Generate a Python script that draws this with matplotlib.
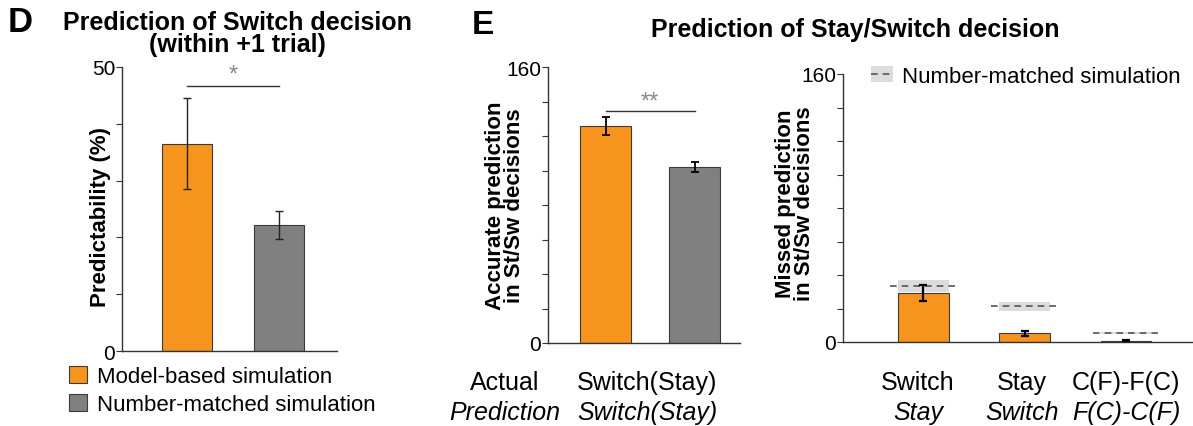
import matplotlib.pyplot as plt
from matplotlib.patches import Patch
from matplotlib.lines import Line2D
import numpy as np

plt.rcParams['font.family'] = ['Liberation Sans', 'DejaVu Sans']

# Panel D: predictability of switch decision (%)
d_groups = ['Model-based simulation', 'Number-matched simulation']
d_vals = [36.5, 22.2]
d_err = [8.0, 2.5]

# Panel E left: accurate predictions
e1_vals = [125.7, 102.2]
e1_err = [5.3, 3.0]

# Panel E right: missed predictions
e2_actual = ['Switch', 'Stay', 'C(F)-F(C)']
e2_pred = ['Stay', 'Switch', 'F(C)-C(F)']
e2_vals = [29.2, 5.3, 0.7]
e2_err = [4.8, 1.5, 0.4]
e2_sim = [33.6, 21.6, 5.3]
e2_sim_lo = [30.0, 18.8, 4.8]
e2_sim_hi = [37.0, 23.9, 5.8]

ORANGE = '#F7941D'
GRAY = '#808080'
W, H = 1193, 427

fig = plt.figure(figsize=(W / 100, H / 100), dpi=100)


def px_axes(l, r, t, b):
    return fig.add_axes([l / W, 1 - b / H, (r - l) / W, (b - t) / H])


def style(ax):
    for s in ['top', 'right']:
        ax.spines[s].set_visible(False)
    for s in ['left', 'bottom']:
        ax.spines[s].set_color('#333333')
        ax.spines[s].set_linewidth(1.0)
    ax.tick_params(axis='y', direction='out', length=4, width=0.8,
                   labelsize=15, color='#333333', pad=1)
    ax.set_xticks([])


# ---- D ----
ax1 = px_axes(122, 337, 68, 352)
style(ax1)
xd = np.array([1, 2])
ax1.bar(xd, d_vals, width=0.55, color=[ORANGE, GRAY], edgecolor='#3a3a3a', linewidth=0.8)
ax1.errorbar(xd, d_vals, yerr=d_err, fmt='none', ecolor='#222222', elinewidth=1.0,
             capsize=3, capthick=1.0)
ax1.set_xlim(0.293, 2.63)
ax1.set_ylim(0, 50)
ax1.set_yticks([0, 10, 20, 30, 40, 50])
ax1.set_yticklabels(['0', '', '', '', '', '50'])
ax1.set_ylabel('Predictability (%)', fontsize=16, fontweight='bold')
ax1.yaxis.set_label_coords(-0.05, 0.474)
ax1.plot([1, 2], [46.7, 46.7], color='#333333', lw=1.0, clip_on=False)
ax1.text(1.5, 48.6, '*', ha='center', va='center', fontsize=17, color='#888888')

fig.text(8 / W, 1 - 22 / H, 'D', fontsize=25, fontweight='bold', va='center', ha='left')
fig.text(237 / W, 1 - 34 / H, 'Prediction of Switch decision\n(within +1 trial)',
         fontsize=18, fontweight='bold', ha='center', va='center', linespacing=0.92)

handles = [Patch(facecolor=ORANGE, edgecolor='#3a3a3a', linewidth=0.8),
           Patch(facecolor=GRAY, edgecolor='#3a3a3a', linewidth=0.8)]
fig.legend(handles, d_groups, loc='upper left', bbox_to_anchor=(69 / W, 1 - 367 / H),
           frameon=False, fontsize=16, handlelength=0.8, handleheight=0.8,
           handletextpad=0.45, labelspacing=0.3, borderaxespad=0, borderpad=0)

# ---- E left ----
ax2 = px_axes(548, 740, 68, 344)
style(ax2)
ax2.bar(xd, e1_vals, width=0.573, color=[ORANGE, GRAY], edgecolor='#3a3a3a', linewidth=0.8)
ax2.errorbar(xd, e1_vals, yerr=e1_err, fmt='none', ecolor='black', elinewidth=1.3,
             capsize=3, capthick=1.3)
ax2.set_xlim(0.351, 2.51)
ax2.set_ylim(0, 160)
ax2.set_yticks(np.arange(0, 161, 20))
ax2.set_yticklabels(['0'] + [''] * 7 + ['160'])
ax2.set_ylabel('Accurate prediction\nin St/Sw decisions', fontsize=16, fontweight='bold',
               linespacing=0.9)
ax2.yaxis.set_label_coords(-0.12, 0.5)
ax2.plot([1, 2], [134.5, 134.5], color='#333333', lw=1.0, clip_on=False)
ax2.text(1.5, 140.0, '**', ha='center', va='center', fontsize=17, color='#888888')
for i, (a, p) in enumerate(zip(['Actual', 'Switch(Stay)'], ['Prediction', 'Switch(Stay)'])):
    xpix = [505, 647][i]
    fig.text(xpix / W, 1 - 383 / H, a, fontsize=18, ha='center', va='center')
    fig.text(xpix / W, 1 - 413 / H, p, fontsize=18, ha='center', va='center', style='italic')

fig.text(472 / W, 1 - 25 / H, 'E', fontsize=24, fontweight='bold', va='center', ha='left')
fig.text(855 / W, 1 - 30 / H, 'Prediction of Stay/Switch decision',
         fontsize=18, fontweight='bold', ha='center', va='center')

# ---- E right ----
ax3 = px_axes(843, 1193, 75, 343)
style(ax3)
x3 = np.arange(1, 4)
sim_lo = np.array(e2_sim_lo)
sim_hi = np.array(e2_sim_hi)
ax3.bar(x3, sim_hi - sim_lo, bottom=sim_lo, width=0.5, color='#dcdcdc', linewidth=0, zorder=1)
ax3.bar(x3, e2_vals, width=0.5, color=ORANGE, edgecolor='#3a3a3a', linewidth=0.8, zorder=2)
ax3.hlines(e2_sim, x3 - 0.33, x3 + 0.33, colors='#555555', linestyles=(0, (4, 3)),
           lw=1.2, zorder=3)
ax3.errorbar(x3, e2_vals, yerr=e2_err, fmt='none', ecolor='black', elinewidth=1.6,
             capsize=3, capthick=1.6, zorder=4)
ax3.set_xlim(0.206, 3.66)
ax3.set_ylim(0, 160)
ax3.set_yticks(np.arange(0, 161, 20))
ax3.set_yticklabels(['0'] + [''] * 7 + ['160'])
ax3.set_ylabel('Missed prediction\nin St/Sw decisions', fontsize=16, fontweight='bold',
               linespacing=0.9)
ax3.yaxis.set_label_coords(-0.08, 0.519)
for i in range(3):
    xpix = [918, 1022, 1126][i]
    fig.text(xpix / W, 1 - 383 / H, e2_actual[i], fontsize=18, ha='center', va='center')
    fig.text(xpix / W, 1 - 413 / H, e2_pred[i], fontsize=18, ha='center', va='center',
             style='italic')

leg_handle = (Patch(facecolor='#dcdcdc', linewidth=0),
              Line2D([], [], color='#555555', linestyle=(0, (4, 3)), lw=1.2))
ax3.legend([leg_handle], ['Number-matched simulation'], loc='upper left',
           bbox_to_anchor=(0.08, 1.03), frameon=False, fontsize=16,
           handlelength=1.0, handletextpad=0.4, borderaxespad=0, borderpad=0)

fig.savefig('out.png', dpi=100)
